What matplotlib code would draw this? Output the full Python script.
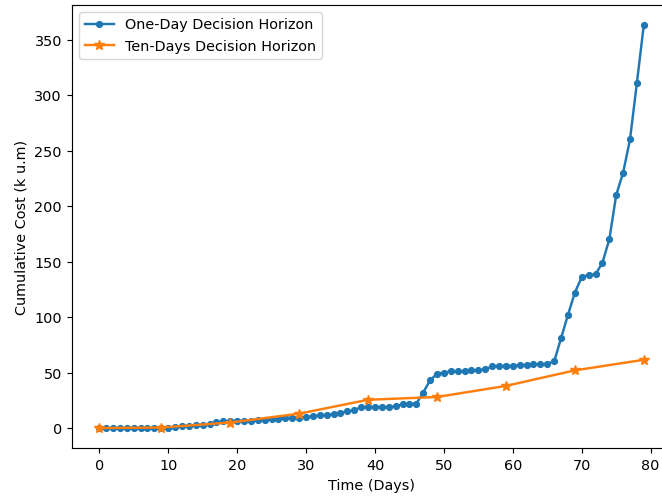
import numpy as np
import matplotlib.pyplot as plt

# one-day horizon, one value per day (0..79)
dias = np.arange(80)
custo_um_dia = [0, 0, 0, 0, 0, 0, 0, 0, 0, 0,
                0.5, 1, 2, 2, 2.5, 3, 3.5, 5.5, 6, 6.5,
                6.5, 6.5, 6.5, 7, 7.5, 8, 8.5, 9, 9.5, 9.5,
                10, 10.5, 11.5, 12, 12.5, 14, 15, 16, 19, 19,
                19, 19, 19, 19.5, 21.5, 22, 22, 32, 43, 49,
                50, 51, 51, 51.5, 52, 52, 53, 55.5, 56, 56,
                56, 56.5, 57, 57.5, 57.5, 58, 60, 81, 102, 122,
                136, 138, 138.5, 149, 170, 210, 230, 260, 311, 363]

# ten-days horizon
dias_dez = [0, 9, 19, 29, 39, 49, 59, 69, 79]
custo_dez_dias = [0, 0.5, 5, 13, 25.5, 28, 38, 52, 61.5]

fig = plt.figure(figsize=(6.4, 4.8), dpi=103.44)
ax = fig.add_axes([72/662, 0.0962, 599/662, 0.8928])

ax.plot(dias, custo_um_dia, marker='.', markersize=8, lw=1.7,
        label='One-Day Decision Horizon')
ax.plot(dias_dez, custo_dez_dias, marker='*', markersize=7, lw=1.7,
        label='Ten-Days Decision Horizon')

ax.set_xlabel('Time (Days)')
ax.set_ylabel('Cumulative Cost (k u.m)')
ax.set_xticks([0, 10, 20, 30, 40, 50, 60, 70, 80])
ax.set_yticks([0, 50, 100, 150, 200, 250, 300, 350])
ax.legend(loc='upper left')

fig.savefig('out.png', dpi=103.44)
